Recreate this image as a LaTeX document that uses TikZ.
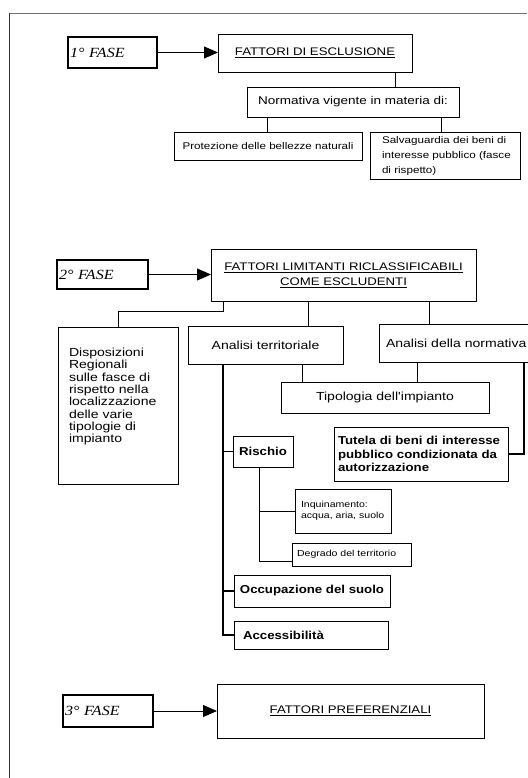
\documentclass[tikz,border=0pt]{standalone}
\usepackage{fontspec}
\usetikzlibrary{arrows.meta,calc}
\newfontfamily\sans{Liberation Sans}[FakeStretch=1.2]
\newfontfamily\bsans{Liberation Sans}[FakeStretch=1.15]
\newfontfamily\tms{Liberation Serif}[FakeStretch=1.15]
\begin{document}
\begin{tikzpicture}[x=1pt,y=-1pt,
  bx/.style={draw, line width=0.8pt, anchor=north west, inner ysep=0pt, outer sep=0pt},
  fase/.style={bx, line width=2pt, inner xsep=2pt, align=left, font=\fontsize{14}{16}\selectfont\tms\itshape},
  ln/.style={line width=0.8pt},
  thk/.style={line width=1.8pt},
  arr/.style={ln, -{Triangle[length=14pt,width=12pt]}},
  hd/.style={font=\fontsize{11}{15}\selectfont\sans, align=center},
  mid/.style={font=\fontsize{11.7}{12.3}\selectfont\sans},
  sml/.style={font=\fontsize{9.7}{15}\selectfont\sans},
  tiny/.style={font=\fontsize{8.8}{11}\selectfont\sans},
  bld/.style={font=\fontsize{11.5}{13.5}\selectfont\bsans\bfseries}
]
\useasboundingbox (0,0) rectangle (527,778);
% outer frame
\draw[black!55, line width=0.8pt] (9,13) -- (527,13);
\draw[black!80, line width=1pt] (9,13) -- (9,778);

% phase 1
\node[fase, text width=85pt, minimum height=31pt] (f1) at (68,37) {1° FASE};
\node[bx, hd, minimum width=194pt, minimum height=38pt] (excl) at (218,34) {\underline{FATTORI DI ESCLUSIONE}};
\node[bx, font=\fontsize{11.25}{13}\selectfont\sans, minimum width=212pt, minimum height=30pt] (norm) at (247,87) {Normativa vigente in materia di:};
\node[bx, sml, minimum width=188pt, minimum height=28pt] (prot) at (174,132) {Protezione delle bellezze naturali};
\node[bx, sml, inner xsep=12pt, text width=126pt, align=left, minimum height=47pt] (salv) at (370,132)
  {\mbox{Salvaguardia dei beni di}\\\mbox{interesse pubblico (fasce}\\di rispetto)};

% phase 2
\node[fase, text width=87pt, minimum height=29pt] (f2) at (57,260) {2° FASE};
\node[bx, hd, minimum width=265pt, minimum height=52pt] (lim) at (211,249)
  {\underline{FATTORI LIMITANTI RICLASSIFICABILI}\\\underline{COME ESCLUDENTI}};
\node[bx, mid, inner xsep=11pt, text width=98pt, align=left, minimum height=157pt] (disp) at (58,327)
  {Disposizioni\\Regionali\\sulle fasce di\\rispetto nella\\localizzazione\\delle varie\\tipologie di\\impianto\\[8pt]\mbox{}};
\node[bx, mid, minimum width=155pt, minimum height=38pt] (terr) at (188,326) {Analisi territoriale};
\node[bx, mid, inner xsep=7pt, text width=146pt, align=left, minimum height=38pt] (normv) at (379,324) {\mbox{Analisi della normativa}};
\node[bx, mid, minimum width=208pt, minimum height=31pt] (tip) at (281,382) {Tipologia dell'impianto};
\node[bx, bld, inner xsep=4pt, text width=166pt, align=left, minimum height=54pt] (tut) at (334,427)
  {\mbox{Tutela di beni di interesse}\\\mbox{pubblico condizionata da}\\autorizzazione};
\node[bx, bld, minimum width=60pt, minimum height=31pt] (risc) at (233,436) {Rischio};
\node[bx, tiny, inner xsep=6pt, text width=84pt, align=left, minimum height=44pt] (inq) at (295,489)
  {Inquinamento:\\\mbox{acqua, aria, suolo}};
\node[bx, tiny, inner xsep=5pt, text width=109pt, align=left, minimum height=23pt] (deg) at (292,543) {Degrado del territorio};
\node[bx, bld, minimum width=156pt, minimum height=32pt] (occ) at (234,575) {Occupazione del suolo};
\node[bx, bld, inner xsep=9pt, text width=136pt, align=left, minimum height=28pt] (acc) at (234,621) {Accessibilità};

% phase 3
\node[fase, text width=86pt, minimum height=32pt] (f3) at (63,695) {3° FASE};
\node[bx, hd, minimum width=267pt, minimum height=54pt] (pref) at (217,684) {\underline{FATTORI PREFERENZIALI}};

% x positions of vertical connectors
\coordinate (xa) at (395,0);
\coordinate (xb) at (267,0);
\coordinate (xc) at (441,0);
\coordinate (xd) at (223,0);
\coordinate (xe) at (308,0);
\coordinate (xf) at (429,0);
\coordinate (xg) at (302,0);
\coordinate (xh) at (417,0);
\coordinate (xr) at (259,0);
\coordinate (xn) at (524,0);

% arrows
\draw[arr] (f1.east) -- (f1.east -| excl.west);
\draw[arr] (f2.east) -- (f2.east -| lim.west);
\draw[arr] (f3.east) -- (f3.east -| pref.west);

% phase 1 connectors
\draw[ln] (xa |- excl.south) -- (xa |- norm.north);
\draw[ln] (xb |- norm.south) -- (xb |- prot.north);
\draw[ln] (xc |- norm.south) -- (xc |- salv.north);

% phase 2 connectors
\draw[ln] (xd |- lim.south) -- ++(0,10) -| (disp.north);
\draw[ln] (xe |- lim.south) -- (xe |- terr.north);
\draw[ln] (xf |- lim.south) -- (xf |- normv.north);
\draw[ln] (xg |- terr.south) -- (xg |- tip.north);
\draw[ln] (xh |- normv.south) -- (xh |- tip.north);
\draw[thk] (xn |- normv.south) |- (tut.east);
\draw[thk] (xd |- terr.south) |- (acc.west);
\draw[thk] (xd |- risc.west) -- (risc.west);
\draw[thk] (xd |- occ.west) -- (occ.west);
\draw[ln] (xr |- risc.south) |- ($(deg.south west)+(0,-5)$);
\draw[ln] (xr |- inq.west) -- (inq.west);
\end{tikzpicture}
\end{document}
